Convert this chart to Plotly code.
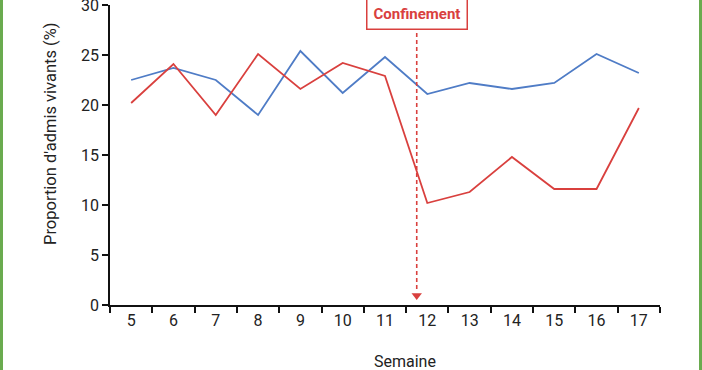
import plotly.graph_objects as go

semaines = [5, 6, 7, 8, 9, 10, 11, 12, 13, 14, 15, 16, 17]
serie_bleue = [22.5, 23.7, 22.5, 19.0, 25.4, 21.2, 24.8, 21.1, 22.2, 21.6, 22.2, 25.1, 23.2]
serie_rouge = [20.2, 24.1, 19.0, 25.1, 21.6, 24.2, 22.9, 10.2, 11.3, 14.8, 11.6, 11.6, 19.7]
y_ticks = [0, 5, 10, 15, 20, 25, 30]
confinement_x = 11.75

BLUE = "#4f7cc6"
RED = "#d9403e"
GREEN = "#6aab4f"
FONT = "Roboto"

fig = go.Figure()
fig.add_trace(go.Scatter(x=semaines, y=serie_bleue, mode="lines",
                         line=dict(color=BLUE, width=1.8), showlegend=False))
fig.add_trace(go.Scatter(x=semaines, y=serie_rouge, mode="lines",
                         line=dict(color=RED, width=1.8), showlegend=False))
# arrowhead
fig.add_trace(go.Scatter(x=[confinement_x], y=[0.95], mode="markers",
                         marker=dict(symbol="triangle-down", size=9, color=RED),
                         showlegend=False, hoverinfo="skip", cliponaxis=False))

fig.add_shape(type="line", x0=confinement_x, x1=confinement_x, y0=27.9, y1=1.3,
              xref="x", yref="y", line=dict(color=RED, width=1.6, dash="4px,3px"))

fig.add_annotation(x=confinement_x, y=29.2, xref="x", yref="y",
                   text="<b>Confinement</b>", showarrow=False,
                   font=dict(family=FONT, size=15, color=RED),
                   bordercolor=RED, borderwidth=1.5, borderpad=6,
                   bgcolor="white")

# green frame lines
fig.add_shape(type="line", xref="paper", yref="paper",
              x0=(1.5 - 110) / 550, x1=(1.5 - 110) / 550, y0=-2, y1=2,
              line=dict(color=GREEN, width=3))
fig.add_shape(type="line", xref="paper", yref="paper",
              x0=(700.5 - 110) / 550, x1=(700.5 - 110) / 550, y0=-2, y1=2,
              line=dict(color=GREEN, width=3))

fig.add_annotation(x=(50 - 110) / 550, y=(305 - 134) / 300, xref="paper", yref="paper",
                   xanchor="center", yanchor="middle",
                   text="Proportion d'admis vivants (%)", textangle=-90,
                   showarrow=False, font=dict(family=FONT, size=16.5, color="#222"))
fig.add_annotation(x=(405 - 110) / 550, y=(305 - 361) / 300, xref="paper", yref="paper",
                   xanchor="center", yanchor="middle",
                   text="Semaine", showarrow=False,
                   font=dict(family=FONT, size=16, color="#222"))

fig.update_layout(
    width=702, height=370,
    margin=dict(l=110, r=42, t=5, b=65, autoexpand=False),
    paper_bgcolor="white", plot_bgcolor="white",
    font=dict(family=FONT, size=14, color="#222"),
    xaxis=dict(range=[4.5, 17.5], tickvals=semaines, ticktext=[str(s) for s in semaines],
               ticks="", showgrid=False, zeroline=False, showline=True, automargin=False,
               linecolor="#111", linewidth=1.5, tickfont=dict(size=16),
               minor=dict(tickvals=[s - 0.5 for s in semaines] + [17.5], ticks="outside",
                          ticklen=6, tickcolor="#111", tickwidth=1.5, showgrid=False)),
    yaxis=dict(range=[0, 30], tickvals=y_ticks, ticks="outside", ticklen=6,
               tickcolor="#111", tickwidth=1.5, showgrid=False, zeroline=False,
               showline=True, linecolor="#111", linewidth=1.5, tickfont=dict(size=16),
               ticklabeloverflow="allow", automargin=False),
)

fig.write_html("out.html", post_script="document.body.style.margin='0';",
               config={"displayModeBar": False})
